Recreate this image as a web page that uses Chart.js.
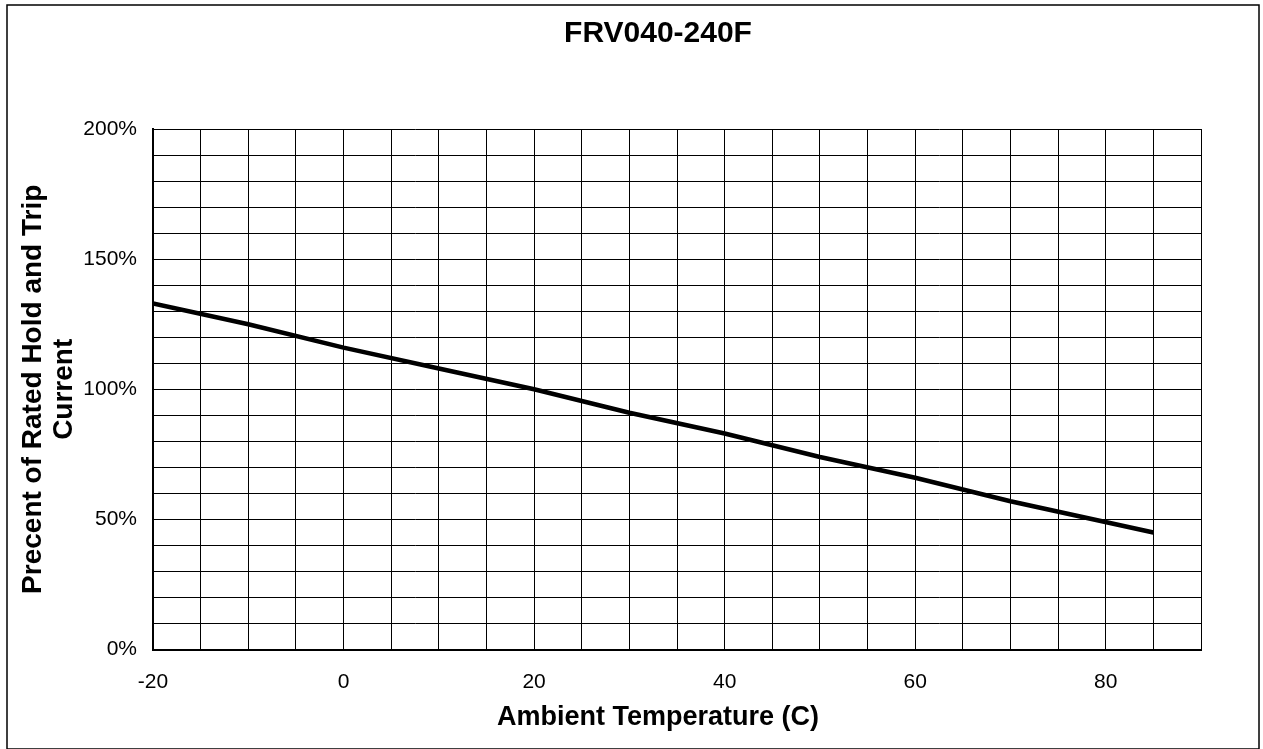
<!DOCTYPE html>
<html>
<head>
<meta charset="utf-8">
<title>FRV040-240F</title>
<script src="https://cdn.jsdelivr.net/npm/chart.js@4"></script>
<style>
  html, body { margin: 0; padding: 0; background: #fff; }
  #wrap { width: 1263px; height: 749px; position: relative; }
</style>
</head>
<body>
<div id="wrap"><canvas id="chartFrv" width="1263" height="749"></canvas></div>
<script>
// values
const temperatures = [-20, -10, 0, 10, 20, 30, 40, 50, 60, 70, 85];
const percentOfRated = [133, 125, 116, 108, 100, 91, 83, 74, 66, 57, 45];

const xTickLabels = [-20, 0, 20, 40, 60, 80];
const yTickLabels = [0, 50, 100, 150, 200];

const chartFrv = document.getElementById("chartFrv");
const FONT = "'Liberation Sans', Arial, sans-serif";

const points = temperatures.map((t, i) => ({ x: t, y: percentOfRated[i] }));

// outer frame around the whole picture
const frame = {
  id: "frame",
  afterDraw(chart) {
    const ctx = chart.ctx;
    ctx.save();
    ctx.strokeStyle = "#000";
    ctx.lineWidth = 1.5;
    ctx.strokeRect(7, 5, 1252, 744);
    ctx.restore();
  },
};

// the original centres its title texts a bit right of the canvas centre
const TITLE_CENTER = 658;
const shiftTitles = {
  id: "shiftTitles",
  afterLayout(chart) {
    chart.boxes.forEach((b) => {
      if (b.options && "text" in b.options && !b.axis) {
        const d = TITLE_CENTER - (b.left + b.right) / 2;
        b.left += d;
        b.right += d;
      }
    });
  },
};

new Chart(chartFrv, {
  type: "scatter",
  data: {
    datasets: [
      {
        data: points,
        showLine: true,
        borderColor: "#000",
        borderWidth: 4.5,
        pointRadius: 0,
        fill: false,
      },
    ],
  },
  options: {
    responsive: false,
    animation: false,
    layout: { padding: { left: 0, right: 62, top: 0, bottom: 15 } },
    plugins: {
      legend: { display: false },
      tooltip: { enabled: false },
      title: {
        display: true,
        text: "FRV040-240F",
        color: "#000",
        font: { family: FONT, size: 30, weight: "bold", lineHeight: 1.2 },
        padding: { top: 16, bottom: 77 },
      },
      subtitle: {
        display: true,
        position: "bottom",
        text: "Ambient Temperature (C)",
        color: "#000",
        font: { family: FONT, size: 27, weight: "bold", lineHeight: 1.2 },
        padding: { top: 0, bottom: 0 },
      },
    },
    scales: {
      x: {
        type: "linear",
        min: -20,
        max: 90,
        afterFit: (s) => { s.height = 52; },
        border: { color: "#000", width: 2 },
        grid: { color: "#000", lineWidth: 1, drawTicks: false },
        ticks: {
          stepSize: 5,
          autoSkip: false,
          maxRotation: 0,
          padding: 20,
          color: "#000",
          font: { family: FONT, size: 21 },
          callback: (v) => (xTickLabels.includes(v) ? String(v) : ""),
        },
      },
      y: {
        min: 0,
        max: 200,
        afterFit: (s) => { s.width = 153; },
        border: { color: "#000", width: 2 },
        grid: { color: "#000", lineWidth: 1, drawTicks: false },
        ticks: {
          stepSize: 10,
          autoSkip: false,
          padding: 16,
          color: "#000",
          font: { family: FONT, size: 21 },
          callback: (v) => (yTickLabels.includes(v) ? v + "%" : ""),
        },
        title: {
          display: true,
          text: ["Precent of Rated Hold and Trip", "Current"],
          color: "#000",
          font: { family: FONT, size: 28, weight: "bold", lineHeight: 1.1 },
          padding: { top: 18, bottom: 0 },
        },
      },
    },
  },
  plugins: [frame, shiftTitles],
});
</script>
</body>
</html>
